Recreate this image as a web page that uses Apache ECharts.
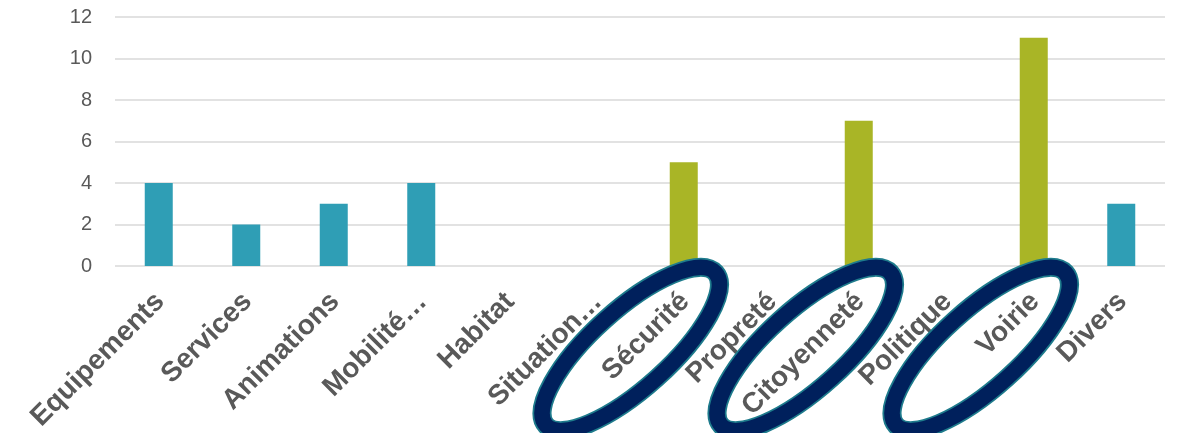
<!DOCTYPE html>
<html>
<head>
<meta charset="utf-8">
<script src="https://cdn.jsdelivr.net/npm/echarts@6/dist/echarts.min.js"></script>
<style>
html,body{margin:0;padding:0;background:#fff;}
#chart{width:1182px;height:433px;}
</style>
</head>
<body>
<div id="chart"></div>
<script>
const categories = ['Equipements','Services','Animations','Mobilité…','Habitat','Situation…','Sécurité','Propreté','Citoyenneté','Politique','Voirie','Divers'];
const counts = [4, 2, 3, 4, 0, 0, 5, 0, 7, 0, 11, 3];
const highlighted = ['Sécurité','Citoyenneté','Voirie'];
const yTicks = {min: 0, max: 12, interval: 2};

const TEAL = '#2F9EB5';
const GREEN = '#A9B526';

const chart = echarts.init(document.getElementById('chart'), null, {renderer: 'canvas'});
chart.setOption({
  animation: false,
  grid: {left: 115, right: 17, top: 17, bottom: 167, containLabel: false, outerBoundsMode: 'none'},
  xAxis: {
    type: 'category',
    data: categories,
    axisLine: {show: false},
    axisTick: {show: false},
    axisLabel: {
      interval: 0,
      rotate: 45,
      margin: 13,
      padding: [0, 12, 0, 0],
      verticalAlign: 'top',
      color: '#595959',
      fontFamily: "'Liberation Sans', Arial, sans-serif",
      fontWeight: 'bold',
      fontSize: 28
    }
  },
  yAxis: {
    type: 'value',
    min: yTicks.min, max: yTicks.max, interval: yTicks.interval,
    axisLine: {show: false},
    axisTick: {show: false},
    splitLine: {lineStyle: {color: '#D9D9D9', width: 1.5}},
    axisLabel: {
      margin: 23,
      color: '#595959',
      fontFamily: "'Liberation Sans', Arial, sans-serif",
      fontSize: 20
    }
  },
  series: [{
    type: 'bar',
    data: counts,
    barCategoryGap: '68%',
    itemStyle: {
      color: function (p) { return highlighted.indexOf(categories[p.dataIndex]) >= 0 ? GREEN : TEAL; }
    }
  }]
});

function drawRings() {
  const axisY = chart.convertToPixel({yAxisIndex: 0}, 0);
  const els = [];
  highlighted.forEach(function (name) {
    const cx = chart.convertToPixel({xAxisIndex: 0}, name);
    const pos = [cx - 53, axisY + 83];
    const rot = 42 * Math.PI / 180;
    els.push({
      type: 'ellipse', x: pos[0], y: pos[1], rotation: rot, z: 100,
      shape: {cx: 0, cy: 0, rx: 114, ry: 39},
      style: {fill: null, stroke: '#1E7B8C', lineWidth: 19}
    });
    els.push({
      type: 'ellipse', x: pos[0], y: pos[1], rotation: rot, z: 101,
      shape: {cx: 0, cy: 0, rx: 114, ry: 39},
      style: {fill: null, stroke: '#00205C', lineWidth: 15.5}
    });
  });
  chart.setOption({graphic: {elements: els}});
}
drawRings();
</script>
</body>
</html>
